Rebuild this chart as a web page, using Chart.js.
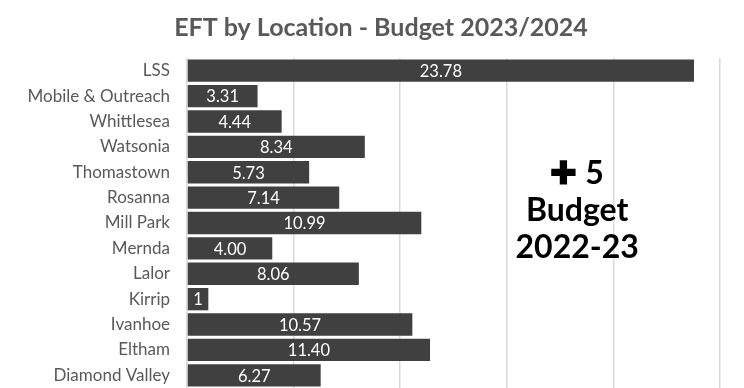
<!DOCTYPE html>
<html>
<head>
<meta charset="utf-8">
<script src="https://cdn.jsdelivr.net/npm/chart.js@4"></script>
<style>
    html, body { margin: 0; padding: 0; background: #ffffff; overflow: hidden; }
    canvas { display: block; }
</style>
</head>
<body>
<canvas id="eftChart" width="744" height="388"></canvas>
<script>
// EFT per location, 2023/2024 budget
const locations = ['LSS', 'Mobile & Outreach', 'Whittlesea', 'Watsonia', 'Thomastown', 'Rosanna',
    'Mill Park', 'Mernda', 'Lalor', 'Kirrip', 'Ivanhoe', 'Eltham', 'Diamond Valley'];
const eftValues = [23.78, 3.31, 4.44, 8.34, 5.73, 7.14, 10.99, 4.00, 8.06, 1, 10.57, 11.40, 6.27];
const valueLabels = ['23.78', '3.31', '4.44', '8.34', '5.73', '7.14', '10.99', '4.00', '8.06', '1', '10.57', '11.40', '6.27'];
const chartTitle = 'EFT by Location - Budget 2023/2024';
const noteLines = ['\u271A 5', 'Budget', '2022-23'];

const fontFamily = 'Lato, "Open Sans", sans-serif';

// heading sits a little right of the canvas centre, so it is drawn by hand
const heading = {
    id: 'heading',
    afterDraw(chart) {
        const ctx = chart.ctx;
        ctx.save();
        ctx.fillStyle = '#595959';
        ctx.font = 'bold 25px ' + fontFamily;
        ctx.textAlign = 'center';
        ctx.textBaseline = 'middle';
        ctx.fillText(chartTitle, chart.width / 2 + 9, 28);
        ctx.restore();
    }
};

// white numbers centred inside each bar
const barValues = {
    id: 'barValues',
    afterDatasetsDraw(chart) {
        const ctx = chart.ctx;
        const meta = chart.getDatasetMeta(0);
        ctx.save();
        ctx.fillStyle = '#ffffff';
        ctx.font = '16.5px ' + fontFamily;
        ctx.textAlign = 'center';
        ctx.textBaseline = 'middle';
        meta.data.forEach(function (bar, i) {
            ctx.fillText(valueLabels[i], (bar.x + bar.base) / 2, bar.y + 1);
        });
        ctx.restore();
    }
};

// the "+5 Budget 2022-23" note to the right of the bars
const budgetNote = {
    id: 'budgetNote',
    afterDraw(chart) {
        const ctx = chart.ctx;
        const x = chart.scales.x.getPixelForValue(18.3);
        const y = chart.scales.y.getPixelForValue(4) + 1;
        ctx.save();
        ctx.fillStyle = '#000000';
        ctx.font = 'bold 32px ' + fontFamily;
        ctx.textAlign = 'center';
        ctx.textBaseline = 'middle';
        noteLines.forEach(function (line, i) {
            ctx.fillText(line, x, y + i * 37);
        });
        ctx.restore();
    }
};

const eftChart = new Chart(document.getElementById('eftChart'), {
    type: 'bar',
    data: {
        labels: locations,
        datasets: [{
            data: eftValues,
            backgroundColor: '#404040',
            borderWidth: 0,
            categoryPercentage: 0.88,
            barPercentage: 1
        }]
    },
    options: {
        indexAxis: 'y',
        responsive: false,
        animation: false,
        layout: { padding: { left: 0, right: 24, top: 58, bottom: 0 } },
        plugins: {
            legend: { display: false },
            tooltip: { enabled: false },
            title: { display: false }
        },
        scales: {
            x: {
                min: 0,
                max: 25,
                afterFit(scale) { scale.height = 0; },
                ticks: { display: false, stepSize: 5 },
                grid: { color: '#d9d9d9', lineWidth: 1.5, drawTicks: false },
                border: { display: false }
            },
            y: {
                afterFit(scale) {
                    scale.width = 187;
                    scale.paddingTop = 0;
                    scale.paddingBottom = 0;
                },
                ticks: { color: '#595959', font: { family: fontFamily, size: 17 }, padding: 17 },
                grid: { display: false, drawTicks: false },
                border: { display: false }
            }
        }
    },
    plugins: [heading, barValues, budgetNote]
});
</script>
</body>
</html>
